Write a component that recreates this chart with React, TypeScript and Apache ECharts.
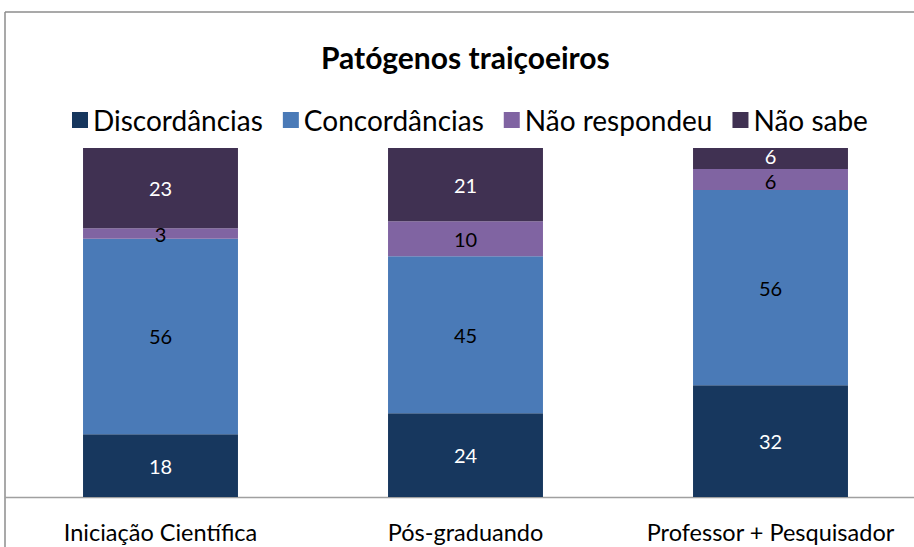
import React, { useEffect, useRef } from "react";
import * as echarts from "echarts";

const categories = ["Iniciação Científica", "Pós-graduando", "Professor + Pesquisador"];
const seriesNames = ["Discordâncias", "Concordâncias", "Não respondeu", "Não sabe"];
const discordancias = [18, 24, 32];
const concordancias = [56, 45, 56];
const naoRespondeu = [3, 10, 6];
const naoSabe = [23, 21, 6];
const colors = ["#17375E", "#4A7AB7", "#8064A2", "#403152"];
const labelColors = ["#ffffff", "#000000", "#000000", "#ffffff"];

const FONT = "Lato, 'Noto Sans', sans-serif";

export default function App() {
  const ref = useRef<HTMLDivElement>(null);
  useEffect(() => {
    document.body.style.margin = "0";
    const chart = echarts.init(ref.current!, undefined, { renderer: "svg" });
    const values = [discordancias, concordancias, naoRespondeu, naoSabe];
    // nudge labels of thin adjacent segments apart so they don't collide
    const nudge = (seriesIdx: number, v: number) => {
      if (v > 8) return 0;
      return seriesIdx === 3 ? -2 : seriesIdx === 2 ? 2 : 0;
    };
    chart.setOption({
      animation: false,
      backgroundColor: "#ffffff",
      title: {
        text: "Patógenos traiçoeiros",
        left: 316,
        top: 37,
        textStyle: { fontFamily: FONT, fontSize: 30, fontWeight: "bold", color: "#000" },
      },
      legend: {
        top: 101,
        left: 67,
        itemWidth: 16,
        itemHeight: 16,
        itemGap: 20,
        icon: "rect",
        textStyle: { fontFamily: FONT, fontSize: 28, color: "#000" },
        data: seriesNames,
      },
      grid: { left: 8, top: 148, width: 915, height: 349 },
      xAxis: {
        type: "category",
        data: categories,
        axisLine: { show: false },
        axisTick: { show: false },
        axisLabel: { fontFamily: FONT, fontSize: 23.5, color: "#000", margin: 23, interval: 0 },
      },
      yAxis: { type: "value", min: 0, max: 100, show: false, splitLine: { show: false } },
      graphic: [
        { type: "line", shape: { x1: 5, y1: 12, x2: 940, y2: 12 }, style: { stroke: "#8c8c8c", lineWidth: 1.5 } },
        { type: "line", shape: { x1: 5, y1: 12, x2: 5, y2: 547 }, style: { stroke: "#8c8c8c", lineWidth: 1.5 } },
        { type: "line", shape: { x1: 5, y1: 497.5, x2: 940, y2: 497.5 }, style: { stroke: "#a0a0a0", lineWidth: 1.5 } },
      ],
      series: seriesNames.map((name, i) => ({
        name,
        type: "bar",
        stack: "total",
        barWidth: "50.8%",
        data: values[i].map((v, j) => ({
          value: v,
          label: { offset: [0, j === 2 ? nudge(i, v) : 0] },
        })),
        itemStyle: { color: colors[i] },
        label: {
          show: true,
          position: "inside",
          color: labelColors[i],
          fontFamily: FONT,
          fontSize: 20,
          lineHeight: 16,
        },
      })),
    });
    return () => chart.dispose();
  }, []);
  return (
    <div style={{ position: "absolute", left: 0, top: 0, width: 914, height: 547, overflow: "hidden" }}>
      <div ref={ref} style={{ width: 940, height: 547 }} />
    </div>
  );
}
